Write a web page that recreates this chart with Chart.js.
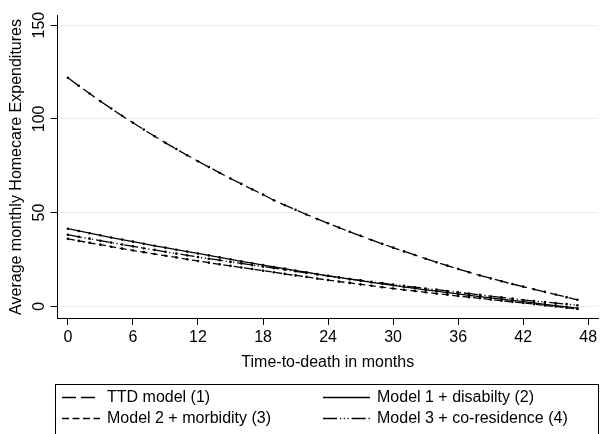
<!DOCTYPE html>
<html>
<head>
<meta charset="utf-8">
<script src="https://cdn.jsdelivr.net/npm/chart.js@4.4.1/dist/chart.umd.min.js"></script>
<style>
  html, body { margin: 0; padding: 0; background: #ffffff; }
  canvas { display: block; }
</style>
</head>
<body>
<canvas id="chart" width="602" height="434"></canvas>
<script>
// Months before death (0 = month of death)
const months = [0,1,2,3,4,5,6,7,8,9,10,11,12,13,14,15,16,17,18,19,20,21,22,23,
                24,25,26,27,28,29,30,31,32,33,34,35,36,37,38,39,40,41,42,43,44,45,46,47];

// Predicted average monthly homecare expenditures per model
const ttdModel = [121.9,117.6,113.5,109.4,105.5,101.6,97.9,94.3,90.7,87.2,83.9,80.6,
                  77.4,74.3,71.2,68.2,65.3,62.4,59.6,56.6,54.0,51.5,49.0,46.6,
                  44.3,42.0,39.8,37.6,35.4,33.3,31.3,29.3,27.4,25.4,23.5,21.7,
                  19.9,18.2,16.5,14.9,13.4,11.9,10.5,9.1,7.7,6.3,4.9,3.5];
const model1Disability = [41.4,40.2,39.0,37.9,36.7,35.6,34.5,33.4,32.3,31.3,30.2,29.2,
                          28.2,27.2,26.1,25.1,24.0,23.0,22.0,21.0,20.1,19.1,18.2,17.2,
                          16.3,15.4,14.5,13.7,12.8,12.0,11.2,10.4,9.6,8.8,8.1,7.3,
                          6.6,5.9,5.2,4.5,3.8,3.2,2.5,1.8,1.1,0.4,-0.3,-1.0];
const model2Morbidity = [36.0,34.9,33.9,32.9,31.8,30.8,29.8,28.9,27.9,27.0,26.1,25.1,
                         24.2,23.3,22.4,21.6,20.7,19.9,19.0,18.2,17.3,16.5,15.7,14.8,
                         14.0,13.2,12.5,11.7,11.0,10.2,9.5,8.8,8.2,7.5,6.8,6.2,
                         5.5,4.9,4.3,3.6,3.0,2.4,1.8,1.2,0.5,-0.1,-0.8,-1.4];
const model3CoResidence = [38.2,37.1,36.1,35.0,34.0,33.0,32.0,31.0,30.1,29.1,28.2,27.2,
                           26.3,25.4,24.6,23.7,22.9,22.0,21.2,20.4,19.5,18.7,17.8,17.0,
                           16.2,15.4,14.6,13.9,13.1,12.4,11.6,10.9,10.2,9.5,8.9,8.2,
                           7.5,6.8,6.1,5.4,4.8,4.1,3.4,2.8,2.3,1.7,1.2,0.6];

const seriesLabels = ['TTD model (1)', 'Model 1 + disabilty (2)',
                      'Model 2 + morbidity (3)', 'Model 3 + co-residence (4)'];
const xTickValues = [0, 6, 12, 18, 24, 30, 36, 42, 48];
const yTickValues = [0, 50, 100, 150];

const FONT = "'Liberation Sans', Arial, Helvetica, sans-serif";
Chart.defaults.font.family = FONT;
Chart.defaults.color = '#000';

const toPoints = vals => vals.map((v, i) => ({ x: months[i], y: v }));

const lineStyle = (label, values, dash) => ({
  label,
  data: toPoints(values),
  borderColor: '#000',
  backgroundColor: '#000',
  borderWidth: 1.3,
  borderDash: dash,
  pointRadius: 1.3,
  pointBorderWidth: 0,
  pointBackgroundColor: '#000',
  tension: 0,
  fill: false
});

// Boxed two-column legend below the plot
const boxLegend = {
  id: 'boxLegend',
  afterDraw(chart) {
    const ctx = chart.ctx;
    ctx.save();
    ctx.strokeStyle = '#000';
    ctx.lineWidth = 1;
    ctx.setLineDash([]);
    ctx.strokeRect(55.5, 384.5, 543, 60);
    const cols = [{ x0: 62, x1: 100, tx: 107 }, { x0: 323, x1: 370, tx: 377 }];
    const rows = [397.5, 418.5];
    ctx.font = '16px ' + FONT;
    ctx.fillStyle = '#000';
    ctx.textBaseline = 'middle';
    ctx.textAlign = 'left';
    chart.data.datasets.forEach((ds, i) => {
      const c = cols[i % 2];
      const y = rows[Math.floor(i / 2)];
      ctx.lineWidth = 1.3;
      ctx.setLineDash(ds.borderDash || []);
      ctx.beginPath();
      ctx.moveTo(c.x0, y);
      ctx.lineTo(c.x1, y);
      ctx.stroke();
      ctx.setLineDash([]);
      ctx.fillText(ds.label, c.tx, y);
    });
    ctx.restore();
  }
};

new Chart(document.getElementById('chart'), {
  type: 'line',
  data: {
    datasets: [
      lineStyle(seriesLabels[0], ttdModel, [14, 5]),
      lineStyle(seriesLabels[1], model1Disability, []),
      lineStyle(seriesLabels[2], model2Morbidity, [7, 3.5]),
      lineStyle(seriesLabels[3], model3CoResidence, [14, 3, 1.2, 2.5, 1.2, 2.5, 1.2, 3])
    ]
  },
  options: {
    responsive: false,
    animation: false,
    devicePixelRatio: 1,
    layout: { padding: { top: 15, right: 0, bottom: 61.7, left: 0 } },
    plugins: {
      legend: { display: false },
      tooltip: { enabled: false }
    },
    scales: {
      x: {
        type: 'linear',
        min: -0.96,
        max: 48.9,
        afterBuildTicks: s => { s.ticks = xTickValues.map(v => ({ value: v })); },
        afterFit: s => { s.paddingLeft = 0; s.paddingRight = 0; },
        grid: { drawOnChartArea: false, drawTicks: true, tickLength: 6, tickColor: '#000' },
        border: { color: '#000', width: 1 },
        ticks: { font: { size: 16 }, color: '#000', padding: 3, maxRotation: 0, autoSkip: false },
        title: { display: true, text: 'Time-to-death in months', font: { size: 16 }, color: '#000',
                 padding: { top: 3, bottom: 0 } }
      },
      y: {
        min: -6.7,
        max: 155.4,
        afterBuildTicks: s => { s.ticks = yTickValues.map(v => ({ value: v })); },
        afterFit: s => { s.width = 57.5; s.paddingTop = 0; s.paddingBottom = 0; },
        grid: { color: '#ebebeb', drawTicks: true, tickLength: 7, tickColor: '#000' },
        border: { color: '#000', width: 1 },
        ticks: { font: { size: 16 }, color: '#000', minRotation: 90, maxRotation: 90,
                 crossAlign: 'center', padding: -2 },
        title: { display: true, text: 'Average monthly Homecare Expenditures', font: { size: 16 },
                 color: '#000', padding: { top: 7, bottom: 0 } }
      }
    }
  },
  plugins: [boxLegend]
});
</script>
</body>
</html>
